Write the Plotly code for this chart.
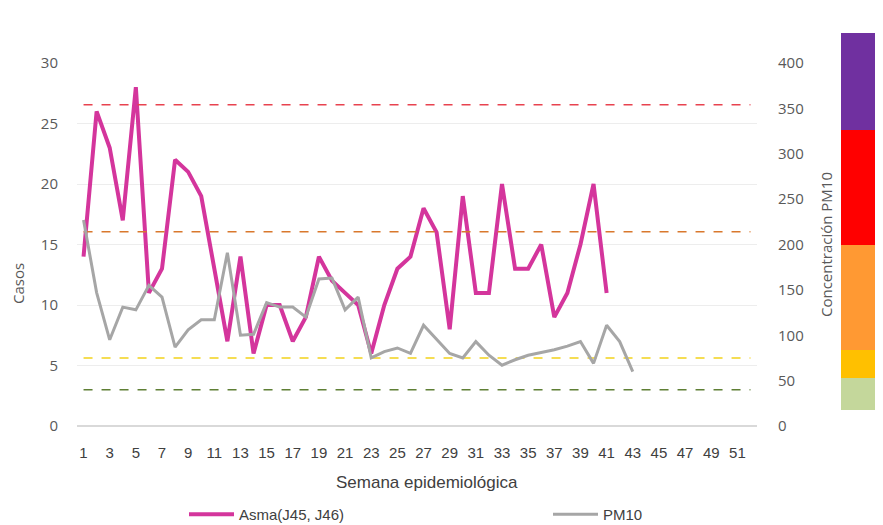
import plotly.graph_objects as go

weeks = list(range(1, 53))
asma_weeks = list(range(1, 42))
asma_cases = [14, 26, 23, 17, 28, 11, 13, 22, 21, 19, 13, 7, 14, 6, 10, 10, 7, 9, 14, 12,
              11, 10, 6, 10, 13, 14, 18, 16, 8, 19, 11, 11, 20, 13, 13, 15, 9, 11, 15, 20, 11]
pm10_weeks = list(range(1, 44))
pm10_conc = [227, 147, 95, 131, 128, 155, 142, 87, 106, 117, 117, 191, 100, 101, 136, 131,
             131, 120, 162, 163, 128, 142, 75, 82, 86, 80, 111, 95, 80, 75, 93, 78, 67, 73,
             78, 81, 84, 88, 93, 69, 111, 93, 60]
thresholds = [40, 75, 214, 354]
threshold_colors = ["#5F7F35", "#F2D21B", "#D9782D", "#E8424F"]
band_colors = ["#7030A0", "#FF0000", "#FF9933", "#FFC000", "#C4D79B"]
band_edges_px = [33, 130, 245, 350, 378, 410]
x_ticks = list(range(1, 52, 2))

fig = go.Figure()

for val, col in zip(thresholds, threshold_colors):
    fig.add_trace(go.Scatter(x=weeks, y=[val] * len(weeks), yaxis="y2", mode="lines",
                             line=dict(color=col, width=1.5, dash="dash"),
                             showlegend=False, hoverinfo="skip"))

fig.add_trace(go.Scatter(x=asma_weeks, y=asma_cases, mode="lines", name="Asma(J45, J46)",
                         line=dict(color="#D4359C", width=4), legend="legend"))
fig.add_trace(go.Scatter(x=pm10_weeks, y=pm10_conc, yaxis="y2", mode="lines", name="PM10",
                         line=dict(color="#A6A6A6", width=3), legend="legend2"))

# page body offset (8px) compensation
off = 8
W, H = 883 - off, 525 - off
plot_left, plot_right = 77, 757
plot_top, plot_bot = 63, 426
w = plot_right - plot_left
h = plot_bot - plot_top
for i, col in enumerate(band_colors):
    y0 = (plot_bot - band_edges_px[i + 1]) / h
    y1 = (plot_bot - band_edges_px[i]) / h
    fig.add_shape(type="rect", xref="paper", yref="paper",
                  x0=(841 - plot_left) / w, x1=(900 - plot_left) / w, y0=y0, y1=y1,
                  fillcolor=col, line=dict(width=0), layer="below")

tick_font = dict(family="Open Sans, sans-serif", size=15, color="#595959")
narrow = "Liberation Sans Narrow, Arial Narrow, sans-serif"
leg_font = dict(family=narrow, size=15, color="#404040")

fig.add_annotation(text="Casos", xref="paper", yref="paper",
                   x=(18 - plot_left) / w, y=(plot_bot - 284) / h, textangle=-90,
                   showarrow=False, xanchor="center", yanchor="middle",
                   font=dict(family="Open Sans, sans-serif", size=15, color="#595959"))
fig.add_annotation(text="Semana epidemiológica", xref="paper", yref="paper",
                   x=(427 - plot_left) / w, y=(plot_bot - 483) / h,
                   showarrow=False, xanchor="center", yanchor="middle",
                   font=dict(family=narrow, size=17, color="#404040"))

fig.update_layout(
    width=W, height=H,
    margin=dict(l=plot_left - off, r=W - (plot_right - off), t=plot_top - off,
                b=H - (plot_bot - off), autoexpand=False),
    paper_bgcolor="white", plot_bgcolor="white",
    xaxis=dict(range=[0.5, 52.5], tickmode="array", tickvals=x_ticks,
               ticktext=[str(t) for t in x_ticks], showgrid=False, zeroline=False,
               showline=False, ticks="", ticklabelstandoff=16,
               tickfont=dict(family=narrow, size=15, color="#404040")),
    yaxis=dict(range=[0, 30], tickvals=[0, 5, 10, 15, 20, 25, 30], showgrid=True,
               gridcolor="#EDEDED", gridwidth=1, zeroline=True, zerolinecolor="#D9D9D9",
               zerolinewidth=2, tickfont=tick_font, ticks="", ticklabelstandoff=18),
    yaxis2=dict(range=[0, 400], tickvals=[0, 50, 100, 150, 200, 250, 300, 350, 400],
                overlaying="y", side="right", showgrid=False, zeroline=False,
                tickfont=tick_font, ticks="", ticklabelstandoff=20,
                title=dict(text="Concentración PM10",
                           font=dict(family="Open Sans, sans-serif", size=15,
                                     color="#595959"), standoff=18)),
    legend=dict(orientation="h", x=(184 - plot_left) / w, y=(plot_bot - 498) / h,
                xanchor="left", yanchor="top", font=leg_font, bgcolor="rgba(0,0,0,0)",
                itemwidth=45),
    legend2=dict(orientation="h", x=(548 - plot_left) / w, y=(plot_bot - 498) / h,
                 xanchor="left", yanchor="top", font=leg_font, bgcolor="rgba(0,0,0,0)",
                 itemwidth=45),
    showlegend=True,
)

fig.write_html("out.html")
